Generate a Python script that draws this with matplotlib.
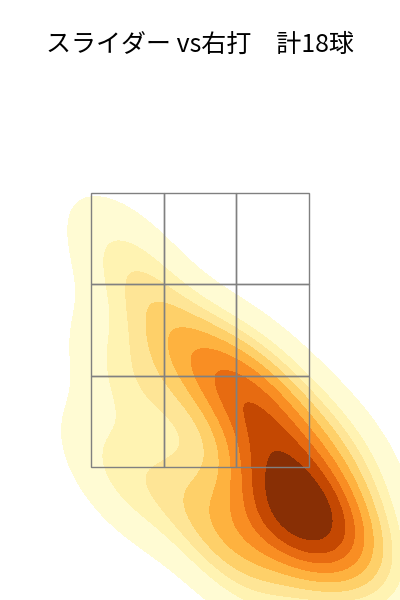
import matplotlib
matplotlib.use("Agg")
import matplotlib.pyplot as plt
import seaborn as sns
import pandas as pd

# 投球位置 (ゾーン中心=0, ゾーン幅 3 マス, 高さ 0〜3)
px = [1.25, 1.60, 1.05, 1.65, 1.00, 1.45, 0.85, 0.60, 0.25, 0.95, -0.35, -0.95, -0.90, -1.05, 0.10, 0.50, 2.10, 1.90]
pz = [-0.55, -0.75, -0.75, -0.35, -0.40, -0.25, 0.35, 0.75, 1.05, 0.90, 1.30, 2.20, 0.90, -0.10, -0.50, -1.00, -0.70, 0.20]

title = "スライダー vs右打　計18球"

zone_x = [-1.5, -0.5, 0.5, 1.5]
zone_y = [0, 1, 2, 3]

df = pd.DataFrame({"x": px, "y": pz})

plt.rcParams['font.family'] = ['Noto Sans CJK JP', 'DejaVu Sans']

fig = plt.figure(figsize=(4, 6), dpi=100)
ax = fig.add_axes([0, 0, 1, 1])

sns.kdeplot(data=df, x="x", y="y", fill=True, cmap="YlOrBr", levels=10, ax=ax)

# ストライクゾーン 3x3
for i in range(3):
    for j in range(3):
        ax.add_patch(plt.Rectangle((zone_x[i], zone_y[j]), zone_x[i + 1] - zone_x[i],
                                   zone_y[j + 1] - zone_y[j], fill=False,
                                   edgecolor="gray", lw=1.0, zorder=5))

ax.set_xlim(-2.752, 2.752)
ax.set_ylim(-1.456, 5.113)
ax.axis("off")

fig.text(0.5, 1 - 45 / 600, title, ha="center", va="center", fontsize=18)

fig.savefig("out.png", dpi=100)
